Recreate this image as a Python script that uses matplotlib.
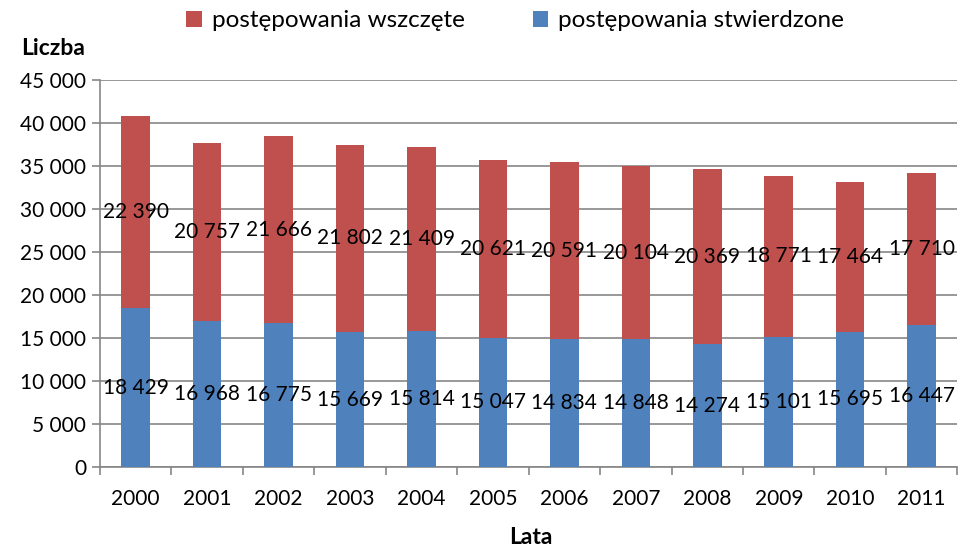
import matplotlib.pyplot as plt
import numpy as np

years = ["2000", "2001", "2002", "2003", "2004", "2005", "2006", "2007", "2008", "2009", "2010", "2011"]
stwierdzone = [18429, 16968, 16775, 15669, 15814, 15047, 14834, 14848, 14274, 15101, 15695, 16447]
wszczete = [22390, 20757, 21666, 21802, 21409, 20621, 20591, 20104, 20369, 18771, 17464, 17710]

BLUE = "#4F81BD"
RED = "#C0504D"
GRID = "#868686"


def fmt(v):
    return f"{v:,}".replace(",", " ")


plt.rcParams["font.family"] = ["Lato", "DejaVu Sans"]
plt.rcParams["font.size"] = 15

fig = plt.figure(figsize=(9.59, 5.48), dpi=100)
ax = fig.add_axes([0.1043, 0.148, 0.894, 0.706])

x = np.arange(len(years))
b1 = ax.bar(x, stwierdzone, width=0.4, color=BLUE, label="postępowania stwierdzone", zorder=3)
b2 = ax.bar(x, wszczete, width=0.4, bottom=stwierdzone, color=RED, label="postępowania wszczęte", zorder=3)

for xi, s, w in zip(x, stwierdzone, wszczete):
    ax.text(xi, s / 2, fmt(s), ha="center", va="center", fontsize=15, zorder=4)
    ax.text(xi, s + w / 2, fmt(w), ha="center", va="center", fontsize=15, zorder=4)

ax.set_xlim(-0.5, len(years) - 0.5)
ax.set_ylim(0, 45000)
ax.set_yticks(np.arange(0, 45001, 5000))
ax.set_yticklabels([fmt(v) for v in range(0, 45001, 5000)])
ax.set_xticks(x)
ax.set_xticklabels(years)
ax.set_xticks(np.arange(-0.5, len(years), 1), minor=True)
ax.tick_params(axis="x", which="major", length=0, pad=16)
ax.tick_params(axis="x", which="minor", length=6, color=GRID, width=1.2)
ax.tick_params(axis="y", length=6, color=GRID, width=1.2, pad=4)
ax.yaxis.grid(True, color=GRID, linewidth=1.2, zorder=0)

for side in ["top", "right"]:
    ax.spines[side].set_visible(False)
for side in ["left", "bottom"]:
    ax.spines[side].set_color(GRID)
    ax.spines[side].set_linewidth(1.2)

fig.text(0.055, 0.912, "Liczba", fontsize=16.5, fontweight="bold", ha="center", va="center")
fig.text(0.553, 0.02, "Lata", fontsize=16.5, fontweight="bold", ha="center", va="center")

fig.legend(handles=[b2, b1], loc="center", bbox_to_anchor=(0.537, 0.962), ncol=2,
           frameon=False, handlelength=0.65, handleheight=0.65, handletextpad=0.4,
           columnspacing=2.8, fontsize=17.5)

fig.savefig("out.png", dpi=100)
